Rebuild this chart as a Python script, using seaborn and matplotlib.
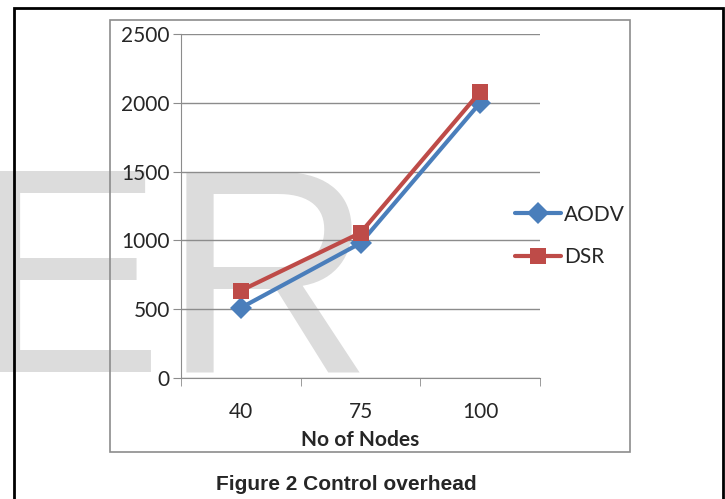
import pandas as pd
import numpy as np
import seaborn as sns
import matplotlib.pyplot as plt
from matplotlib.patches import Rectangle

# data
nodes = ['40', '75', '100']
aodv = [510, 980, 2000]
dsr = [635, 1055, 2080]
col_dct = {'AODV': '#4a7ebb', 'DSR': '#be4b48'}

d = pd.DataFrame({
    'Nodes': nodes * 2,
    'overhead': aodv + dsr,
    'protocol': ['AODV'] * 3 + ['DSR'] * 3})
d['pos'] = d['Nodes'].map({n: i for i, n in enumerate(nodes)})

sns.set_style('white')
plt.rcParams['font.family'] = ['Lato', 'DejaVu Sans']

fig = plt.figure(figsize=(7.25, 4.99), dpi=100)
W, H = 725, 499

# watermark behind everything
fig.text(-32 / W, 1 - 372 / H, 'ER', fontsize=210, color='#dcdcdc',
         family='Liberation Sans', va='baseline', ha='left', zorder=-5)

# outer black frame + grey chart box
fig.patches.append(Rectangle((14 / W, -0.1), (723 - 14) / W, 1.1 - 8 / H,
                             transform=fig.transFigure, fill=False,
                             edgecolor='black', lw=2, zorder=3))
fig.patches.append(Rectangle((110 / W, 1 - 452 / H), 520 / W, (452 - 20) / H,
                             transform=fig.transFigure, fill=False,
                             edgecolor='#8c8c8c', lw=1.2, zorder=3))

ax = fig.add_axes([181 / W, 1 - 378 / H, (540 - 181) / W, (378 - 34) / H])
ax.patch.set_alpha(0)

sns.lineplot(data=d, x='pos', y='overhead', hue='protocol', style='protocol',
             markers={'AODV': 'D', 'DSR': 's'}, dashes=False, palette=col_dct,
             linewidth=3, markersize=11.5, markeredgewidth=0, ax=ax)

ax.set_xlim(-0.5, 2.5)
ax.set_ylim(0, 2500)
ax.set_yticks(np.arange(0, 2501, 500))
ax.yaxis.grid(True, color='#8c8c8c', lw=1)
ax.set_xticks(range(len(nodes)))
ax.set_xticklabels(nodes)
ax.set_xticks([-0.5, 0.5, 1.5, 2.5], minor=True)
ax.tick_params(axis='x', which='major', length=0, pad=17, labelsize=15)
ax.tick_params(axis='x', which='minor', length=6, color='#8c8c8c', direction='out')
ax.tick_params(axis='y', length=6, color='#8c8c8c', direction='out', labelsize=15, pad=2)
ax.tick_params(axis='both', which='both', bottom=True, left=True)
for s in ['top', 'right']:
    ax.spines[s].set_visible(False)
for s in ['left', 'bottom']:
    ax.spines[s].set_color('#8c8c8c')
ax.set_xlabel('No of Nodes', fontsize=15, fontweight='bold', labelpad=6)
ax.set_ylabel('')

handles, labels = ax.get_legend_handles_labels()
ax.legend(handles, labels, loc='center left', bbox_to_anchor=(496 / W, 1 - 236 / H),
          bbox_transform=fig.transFigure, frameon=False, fontsize=15,
          handlelength=2.2, handletextpad=0.15, labelspacing=1.1)

fig.text(346 / W, 1 - 484 / H, 'Figure 2 Control overhead', ha='center', va='center',
         fontsize=15, fontweight='bold', family='Liberation Sans')

plt.savefig('out.png', dpi=100)
